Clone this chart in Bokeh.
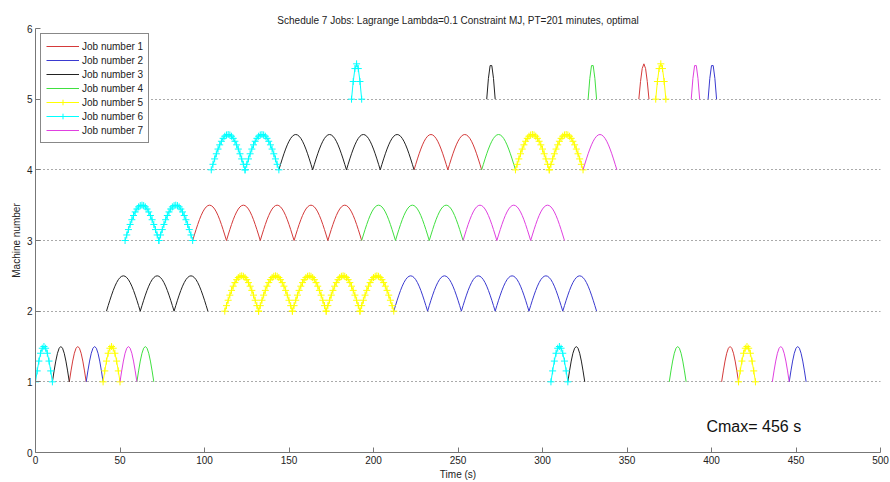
import numpy as np
from bokeh.plotting import figure
from bokeh.models import FixedTicker, Legend, LegendItem, Label, Range1d
from bokeh.embed import file_html
from bokeh.resources import INLINE

# ---- data ----
job_names = ["Job number 1", "Job number 2", "Job number 3", "Job number 4",
             "Job number 5", "Job number 6", "Job number 7"]
job_colors = ["#d43a3a", "#3a3ad0", "#222222", "#40e040", "#ffff00", "#00ffff", "#e040e0"]
job_markers = [None, None, None, None, "cross", "cross", None]

m1_jobs = [6, 3, 1, 2, 5, 7, 4, 6, 3, 4, 1, 5, 7, 2]
m1_start = [0, 10, 20, 30, 40, 50, 60, 305, 315, 375, 406, 416, 436, 446]
m1_end = [10, 20, 30, 40, 50, 60, 70, 315, 325, 385, 416, 426, 446, 456]

m2_jobs = [3, 3, 3, 5, 5, 5, 5, 5, 2, 2, 2, 2, 2, 2]
m2_start = [42, 62, 82, 112, 132, 152, 172, 192, 212, 232, 252, 272, 292, 312]
m2_end = [62, 82, 102, 132, 152, 172, 192, 212, 232, 252, 272, 292, 312, 332]

m3_jobs = [6, 6, 1, 1, 1, 1, 1, 4, 4, 4, 7, 7, 7]
m3_start = [53, 73, 93, 113, 133, 153, 173, 193, 213, 233, 253, 273, 293]
m3_end = [73, 93, 113, 133, 153, 173, 193, 213, 233, 253, 273, 293, 313]

m4_jobs = [6, 6, 3, 3, 3, 3, 1, 1, 4, 5, 5, 7]
m4_start = [104, 124, 144, 164, 184, 204, 224, 244, 264, 284, 304, 324]
m4_end = [124, 144, 164, 184, 204, 224, 244, 264, 284, 304, 324, 344]

m5_jobs = [6, 3, 4, 1, 5, 7, 2]
m5_start = [187, 267, 327, 357, 367, 388, 398]
m5_end = [193, 272, 332, 363, 373, 393, 403]

machines = [1, 2, 3, 4, 5]
x_ticks = [0, 50, 100, 150, 200, 250, 300, 350, 400, 450, 500]
y_ticks = [0, 1, 2, 3, 4, 5, 6]
cmax = 456

title = "Schedule 7 Jobs: Lagrange Lambda=0.1 Constraint MJ, PT=201 minutes, optimal"

FONT = "Liberation Sans"

p = figure(width=890, height=482, output_backend="svg", toolbar_location=None,
           x_range=Range1d(0, 500), y_range=Range1d(0, 6),
           min_border_left=35, min_border_right=10, min_border_top=28, min_border_bottom=29)
p.title.text = title
p.title.align = "center"
p.title.text_font = FONT
p.title.text_font_size = "10px"
p.title.text_font_style = "normal"
p.title.text_color = "#222222"
p.title.offset = 0
p.title.standoff = 6

p.outline_line_color = None
p.xgrid.grid_line_color = None
p.ygrid.grid_line_color = "#555555"
p.ygrid.grid_line_dash = "1 3"
p.ygrid.grid_line_width = 1

for ax in (p.xaxis[0], p.yaxis[0]):
    ax.axis_line_color = "#777777"
    ax.major_tick_line_color = "#777777"
    ax.major_tick_in = 5
    ax.major_tick_out = 0
    ax.minor_tick_line_color = None
    ax.major_label_text_font = FONT
    ax.major_label_text_font_size = "10px"
    ax.major_label_text_color = "#222222"
    ax.axis_label_text_font = FONT
    ax.axis_label_text_font_size = "10px"
    ax.axis_label_text_font_style = "normal"
    ax.axis_label_text_color = "#222222"
    ax.major_label_standoff = 3
    ax.axis_label_standoff = 2

p.xaxis.ticker = FixedTicker(ticks=x_ticks)
p.yaxis.ticker = FixedTicker(ticks=y_ticks)
p.ygrid.ticker = FixedTicker(ticks=y_ticks[1:])
p.xaxis.axis_label = "Time (s)"
p.yaxis.axis_label = "Machine number"

# collect arches per job
xs = {j: [] for j in range(1, 8)}
ys = {j: [] for j in range(1, 8)}
all_ops = [(1, m1_jobs, m1_start, m1_end), (2, m2_jobs, m2_start, m2_end),
           (3, m3_jobs, m3_start, m3_end), (4, m4_jobs, m4_start, m4_end),
           (5, m5_jobs, m5_start, m5_end)]
for m, jobs, starts, ends in all_ops:
    for j, s, e in zip(jobs, starts, ends):
        n = int(round(e - s)) + 1
        t = np.linspace(s, e, n)
        y = m + 0.5 * np.sin(np.pi * (t - s) / (e - s))
        xs[j].append(list(t))
        ys[j].append(list(y))

items = []
for j in range(1, 8):
    c = job_colors[j - 1]
    r_line = p.multi_line(xs[j], ys[j], line_color=c, line_width=1)
    rends = [r_line]
    if job_markers[j - 1]:
        fx = [v for seg in xs[j] for v in seg]
        fy = [v for seg in ys[j] for v in seg]
        r_m = p.scatter(fx, fy, marker=job_markers[j - 1], size=7,
                        line_color=c, line_width=1)
        rends.append(r_m)
    items.append(LegendItem(label=job_names[j - 1], renderers=rends))

legend = Legend(items=items, location="top_left")
legend.label_text_font = FONT
legend.label_text_font_size = "10px"
legend.label_text_color = "#222222"
legend.glyph_width = 33
legend.glyph_height = 14
legend.label_height = 14
legend.label_standoff = 3
legend.spacing = 0
legend.padding = 5
legend.margin = 5
legend.border_line_color = "#111111"
legend.border_line_width = 1
legend.background_fill_alpha = 1
p.add_layout(legend)

p.add_layout(Label(x=397, y=0.37, text="Cmax= %d s" % cmax, text_font=FONT,
                   text_font_size="16px", text_color="#111111",
                   text_baseline="middle", text_align="left"))

open("out.html", "w").write(file_html(p, INLINE))
